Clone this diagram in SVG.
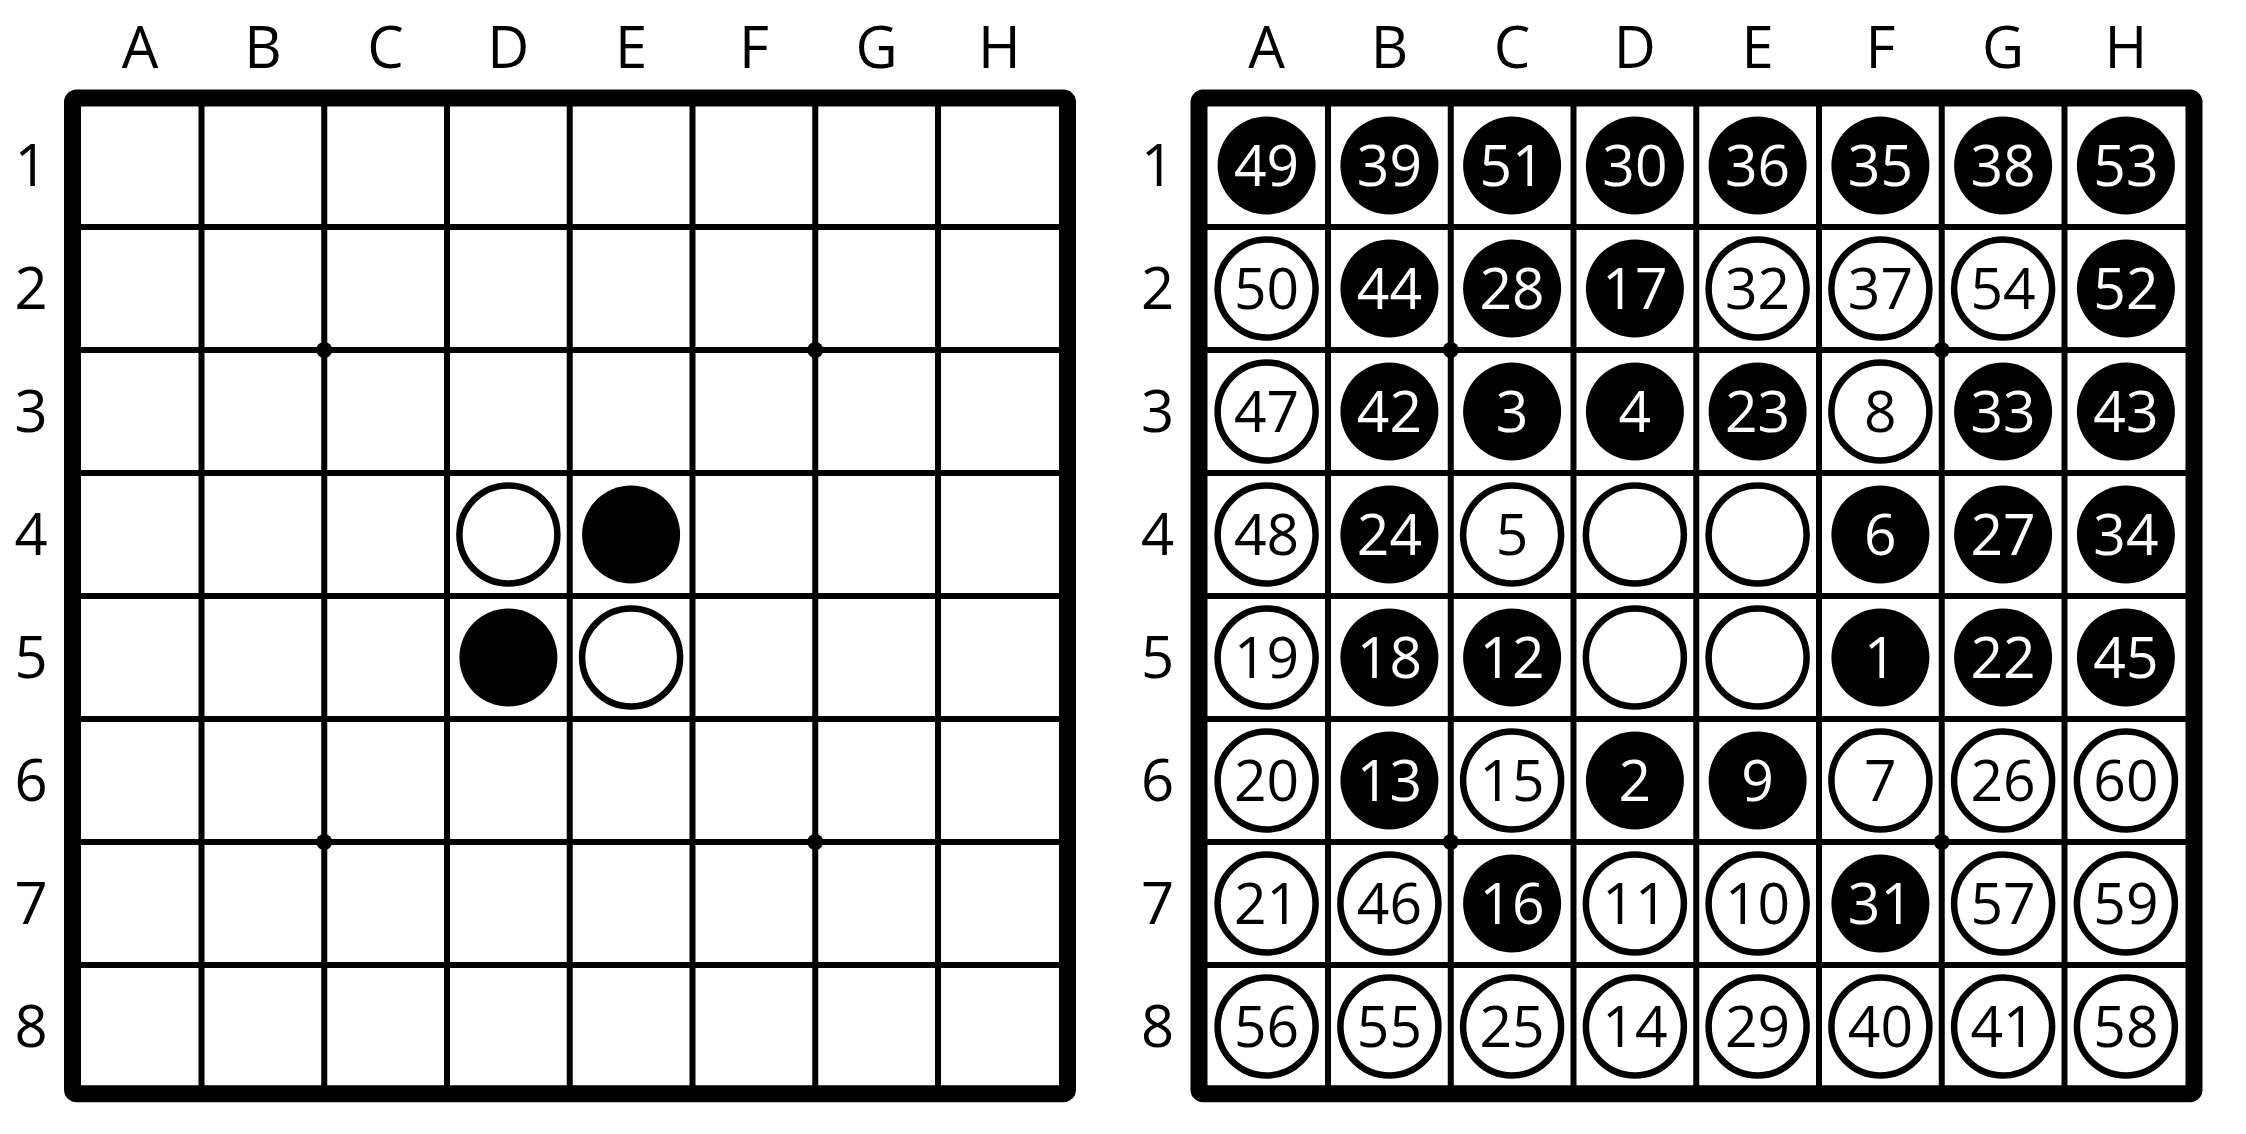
<svg xmlns="http://www.w3.org/2000/svg" width="2246" height="1134" viewBox="0 0 2246 1134">
<style>
.bd{fill:none;stroke:#000;stroke-width:17}
.ln{stroke:#000;stroke-width:6;fill:none}
.lbl{font-family:"Open Sans","Liberation Sans",sans-serif;font-size:58px;fill:#000;text-anchor:middle}
.w{fill:#fff;stroke:#000;stroke-width:6.5}
.b{fill:#000}
.nw{font-family:"Open Sans","Liberation Sans",sans-serif;font-size:57px;fill:#000;text-anchor:middle}
.nb{font-family:"Open Sans","Liberation Sans",sans-serif;font-size:57px;fill:#fff;text-anchor:middle}
</style>
<rect width="2246" height="1134" fill="#fff"/>
<defs>
<g id="board">
<rect x="72.5" y="98" width="995" height="995.7" fill="#fff"/>
<g class="ln">
<path d="M201.5 98V1094M324.25 98V1094M447 98V1094M569.75 98V1094M692.5 98V1094M815.25 98V1094M938 98V1094"/>
<path d="M72.5 227H1067.5M72.5 350H1067.5M72.5 473H1067.5M72.5 596H1067.5M72.5 719H1067.5M72.5 842H1067.5M72.5 965H1067.5"/>
</g>
<circle cx="324.25" cy="350" r="8"/><circle cx="815.25" cy="350" r="8"/>
<circle cx="324.25" cy="842" r="8"/><circle cx="815.25" cy="842" r="8"/>
<rect class="bd" x="72.5" y="98" width="995" height="995.7" rx="4"/>
<g class="lbl">
<text x="140.1" y="68">A</text><text x="262.9" y="68">B</text><text x="385.6" y="68">C</text><text x="508.4" y="68">D</text>
<text x="631.1" y="68">E</text><text x="753.9" y="68">F</text><text x="876.6" y="68">G</text><text x="999.4" y="68">H</text>
<text x="31" y="186">1</text><text x="31" y="309">2</text><text x="31" y="432">3</text><text x="31" y="555">4</text>
<text x="31" y="678">5</text><text x="31" y="801">6</text><text x="31" y="924">7</text><text x="31" y="1047">8</text>
</g>
</g>
</defs>
<g id="left-board">
<use href="#board"/>
<g id="l-d4" transform="translate(508.4,534.5)"><circle class="w" r="49"/></g>
<g id="l-e4" transform="translate(631.1,534.5)"><circle class="b" r="49"/></g>
<g id="l-d5" transform="translate(508.4,657.5)"><circle class="b" r="49"/></g>
<g id="l-e5" transform="translate(631.1,657.5)"><circle class="w" r="49"/></g>
</g>
<g id="right-board" transform="translate(1126.5,0)">
<use href="#board"/>
<g id="r1">
<g id="r-a1" transform="translate(140.1,165.5)"><circle class="b" r="49"/><text class="nb" y="20.5">49</text></g>
<g id="r-b1" transform="translate(262.9,165.5)"><circle class="b" r="49"/><text class="nb" y="20.5">39</text></g>
<g id="r-c1" transform="translate(385.6,165.5)"><circle class="b" r="49"/><text class="nb" y="20.5">51</text></g>
<g id="r-d1" transform="translate(508.4,165.5)"><circle class="b" r="49"/><text class="nb" y="20.5">30</text></g>
<g id="r-e1" transform="translate(631.1,165.5)"><circle class="b" r="49"/><text class="nb" y="20.5">36</text></g>
<g id="r-f1" transform="translate(753.9,165.5)"><circle class="b" r="49"/><text class="nb" y="20.5">35</text></g>
<g id="r-g1" transform="translate(876.6,165.5)"><circle class="b" r="49"/><text class="nb" y="20.5">38</text></g>
<g id="r-h1" transform="translate(999.4,165.5)"><circle class="b" r="49"/><text class="nb" y="20.5">53</text></g>
</g>
<g id="r2">
<g id="r-a2" transform="translate(140.1,288.5)"><circle class="w" r="49"/><text class="nw" y="20.5">50</text></g>
<g id="r-b2" transform="translate(262.9,288.5)"><circle class="b" r="49"/><text class="nb" y="20.5">44</text></g>
<g id="r-c2" transform="translate(385.6,288.5)"><circle class="b" r="49"/><text class="nb" y="20.5">28</text></g>
<g id="r-d2" transform="translate(508.4,288.5)"><circle class="b" r="49"/><text class="nb" y="20.5">17</text></g>
<g id="r-e2" transform="translate(631.1,288.5)"><circle class="w" r="49"/><text class="nw" y="20.5">32</text></g>
<g id="r-f2" transform="translate(753.9,288.5)"><circle class="w" r="49"/><text class="nw" y="20.5">37</text></g>
<g id="r-g2" transform="translate(876.6,288.5)"><circle class="w" r="49"/><text class="nw" y="20.5">54</text></g>
<g id="r-h2" transform="translate(999.4,288.5)"><circle class="b" r="49"/><text class="nb" y="20.5">52</text></g>
</g>
<g id="r3">
<g id="r-a3" transform="translate(140.1,411.5)"><circle class="w" r="49"/><text class="nw" y="20.5">47</text></g>
<g id="r-b3" transform="translate(262.9,411.5)"><circle class="b" r="49"/><text class="nb" y="20.5">42</text></g>
<g id="r-c3" transform="translate(385.6,411.5)"><circle class="b" r="49"/><text class="nb" y="20.5">3</text></g>
<g id="r-d3" transform="translate(508.4,411.5)"><circle class="b" r="49"/><text class="nb" y="20.5">4</text></g>
<g id="r-e3" transform="translate(631.1,411.5)"><circle class="b" r="49"/><text class="nb" y="20.5">23</text></g>
<g id="r-f3" transform="translate(753.9,411.5)"><circle class="w" r="49"/><text class="nw" y="20.5">8</text></g>
<g id="r-g3" transform="translate(876.6,411.5)"><circle class="b" r="49"/><text class="nb" y="20.5">33</text></g>
<g id="r-h3" transform="translate(999.4,411.5)"><circle class="b" r="49"/><text class="nb" y="20.5">43</text></g>
</g>
<g id="r4">
<g id="r-a4" transform="translate(140.1,534.5)"><circle class="w" r="49"/><text class="nw" y="20.5">48</text></g>
<g id="r-b4" transform="translate(262.9,534.5)"><circle class="b" r="49"/><text class="nb" y="20.5">24</text></g>
<g id="r-c4" transform="translate(385.6,534.5)"><circle class="w" r="49"/><text class="nw" y="20.5">5</text></g>
<g id="r-d4" transform="translate(508.4,534.5)"><circle class="w" r="49"/></g>
<g id="r-e4" transform="translate(631.1,534.5)"><circle class="w" r="49"/></g>
<g id="r-f4" transform="translate(753.9,534.5)"><circle class="b" r="49"/><text class="nb" y="20.5">6</text></g>
<g id="r-g4" transform="translate(876.6,534.5)"><circle class="b" r="49"/><text class="nb" y="20.5">27</text></g>
<g id="r-h4" transform="translate(999.4,534.5)"><circle class="b" r="49"/><text class="nb" y="20.5">34</text></g>
</g>
<g id="r5">
<g id="r-a5" transform="translate(140.1,657.5)"><circle class="w" r="49"/><text class="nw" y="20.5">19</text></g>
<g id="r-b5" transform="translate(262.9,657.5)"><circle class="b" r="49"/><text class="nb" y="20.5">18</text></g>
<g id="r-c5" transform="translate(385.6,657.5)"><circle class="b" r="49"/><text class="nb" y="20.5">12</text></g>
<g id="r-d5" transform="translate(508.4,657.5)"><circle class="w" r="49"/></g>
<g id="r-e5" transform="translate(631.1,657.5)"><circle class="w" r="49"/></g>
<g id="r-f5" transform="translate(753.9,657.5)"><circle class="b" r="49"/><text class="nb" y="20.5">1</text></g>
<g id="r-g5" transform="translate(876.6,657.5)"><circle class="b" r="49"/><text class="nb" y="20.5">22</text></g>
<g id="r-h5" transform="translate(999.4,657.5)"><circle class="b" r="49"/><text class="nb" y="20.5">45</text></g>
</g>
<g id="r6">
<g id="r-a6" transform="translate(140.1,780.5)"><circle class="w" r="49"/><text class="nw" y="20.5">20</text></g>
<g id="r-b6" transform="translate(262.9,780.5)"><circle class="b" r="49"/><text class="nb" y="20.5">13</text></g>
<g id="r-c6" transform="translate(385.6,780.5)"><circle class="w" r="49"/><text class="nw" y="20.5">15</text></g>
<g id="r-d6" transform="translate(508.4,780.5)"><circle class="b" r="49"/><text class="nb" y="20.5">2</text></g>
<g id="r-e6" transform="translate(631.1,780.5)"><circle class="b" r="49"/><text class="nb" y="20.5">9</text></g>
<g id="r-f6" transform="translate(753.9,780.5)"><circle class="w" r="49"/><text class="nw" y="20.5">7</text></g>
<g id="r-g6" transform="translate(876.6,780.5)"><circle class="w" r="49"/><text class="nw" y="20.5">26</text></g>
<g id="r-h6" transform="translate(999.4,780.5)"><circle class="w" r="49"/><text class="nw" y="20.5">60</text></g>
</g>
<g id="r7">
<g id="r-a7" transform="translate(140.1,903.5)"><circle class="w" r="49"/><text class="nw" y="20.5">21</text></g>
<g id="r-b7" transform="translate(262.9,903.5)"><circle class="w" r="49"/><text class="nw" y="20.5">46</text></g>
<g id="r-c7" transform="translate(385.6,903.5)"><circle class="b" r="49"/><text class="nb" y="20.5">16</text></g>
<g id="r-d7" transform="translate(508.4,903.5)"><circle class="w" r="49"/><text class="nw" y="20.5">11</text></g>
<g id="r-e7" transform="translate(631.1,903.5)"><circle class="w" r="49"/><text class="nw" y="20.5">10</text></g>
<g id="r-f7" transform="translate(753.9,903.5)"><circle class="b" r="49"/><text class="nb" y="20.5">31</text></g>
<g id="r-g7" transform="translate(876.6,903.5)"><circle class="w" r="49"/><text class="nw" y="20.5">57</text></g>
<g id="r-h7" transform="translate(999.4,903.5)"><circle class="w" r="49"/><text class="nw" y="20.5">59</text></g>
</g>
<g id="r8">
<g id="r-a8" transform="translate(140.1,1026.5)"><circle class="w" r="49"/><text class="nw" y="20.5">56</text></g>
<g id="r-b8" transform="translate(262.9,1026.5)"><circle class="w" r="49"/><text class="nw" y="20.5">55</text></g>
<g id="r-c8" transform="translate(385.6,1026.5)"><circle class="w" r="49"/><text class="nw" y="20.5">25</text></g>
<g id="r-d8" transform="translate(508.4,1026.5)"><circle class="w" r="49"/><text class="nw" y="20.5">14</text></g>
<g id="r-e8" transform="translate(631.1,1026.5)"><circle class="w" r="49"/><text class="nw" y="20.5">29</text></g>
<g id="r-f8" transform="translate(753.9,1026.5)"><circle class="w" r="49"/><text class="nw" y="20.5">40</text></g>
<g id="r-g8" transform="translate(876.6,1026.5)"><circle class="w" r="49"/><text class="nw" y="20.5">41</text></g>
<g id="r-h8" transform="translate(999.4,1026.5)"><circle class="w" r="49"/><text class="nw" y="20.5">58</text></g>
</g>
</g>
</svg>
